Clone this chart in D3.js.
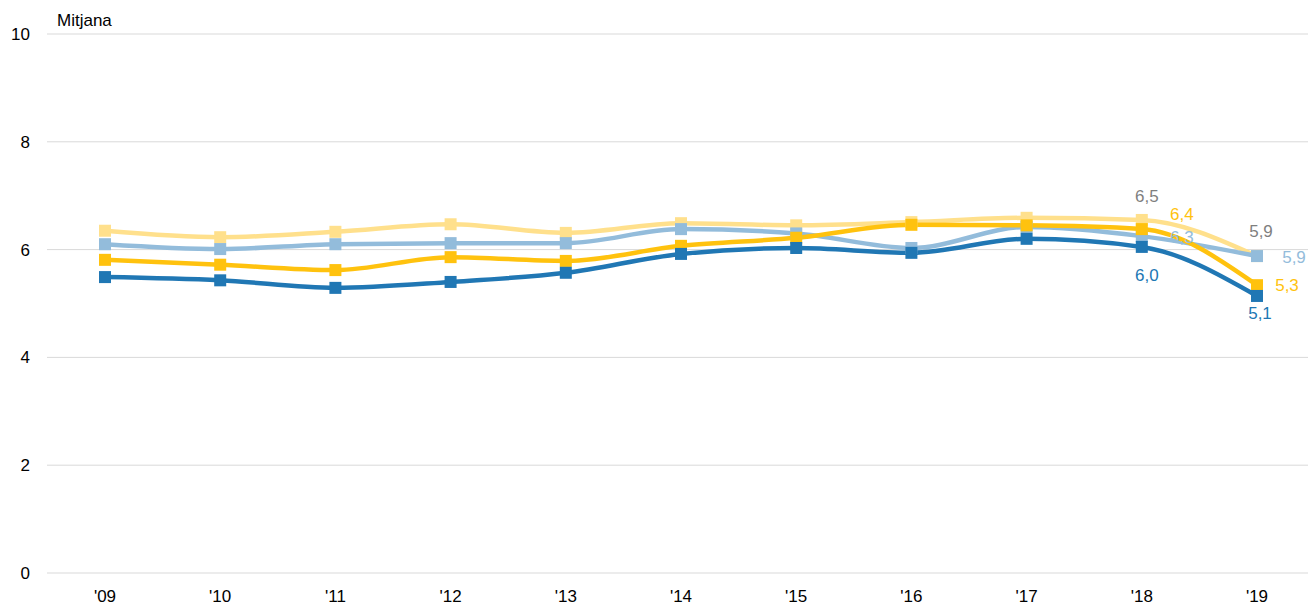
<!DOCTYPE html>
<html><head><meta charset="utf-8">
<script src="https://cdn.jsdelivr.net/npm/d3@7"></script>
<style>body{margin:0;background:#fff}svg{display:block;font-family:"Liberation Sans",Arial,sans-serif}</style>
</head><body><svg id="c" width="1308" height="606"></svg>
<script>
const years = ["'09","'10","'11","'12","'13","'14","'15","'16","'17","'18","'19"];
const yTicks = [0,2,4,6,8,10];
const seriesLightYellow = [6.35,6.23,6.33,6.47,6.31,6.49,6.45,6.51,6.59,6.55,5.88];
const seriesLightBlue  = [6.10,6.01,6.10,6.12,6.12,6.38,6.30,6.03,6.42,6.25,5.88];
const seriesGold       = [5.81,5.72,5.62,5.86,5.79,6.07,6.22,6.46,6.45,6.38,5.34];
const seriesDarkBlue   = [5.49,5.43,5.29,5.40,5.57,5.92,6.03,5.94,6.20,6.05,5.14];
const labels18 = ["6,5","6,3","6,4","6,0"];
const labels19 = ["5,9","5,9","5,3","5,1"];

const series = [
  {v: seriesLightYellow, c:"#ffe08c", lc:"#7f7f7f"},
  {v: seriesLightBlue, c:"#93bcdb", lc:"#93bcdb"},
  {v: seriesGold, c:"#ffc20e", lc:"#ffc20e"},
  {v: seriesDarkBlue, c:"#2077b4", lc:"#2077b4"}
];
const FS = 17;
const svg = d3.select("#c");
const x = d3.scalePoint().domain(years).range([105,1257]);
const y = d3.scaleLinear().domain([0,10]).range([573,34]);

const g = svg.append("g");
g.selectAll("line.grid").data(yTicks).join("line")
  .attr("x1",47).attr("x2",1308).attr("y1",d=>y(d)).attr("y2",d=>y(d))
  .attr("stroke","#d9d9d9").attr("stroke-width",1);
g.selectAll("text.yt").data(yTicks).join("text")
  .attr("x",30).attr("y",d=>y(d)).attr("dy","0.35em").attr("text-anchor","end")
  .attr("font-size",FS).attr("fill","#000").text(d=>d);
g.selectAll("text.xt").data(years).join("text")
  .attr("x",d=>x(d)).attr("y",596).attr("dy","0.35em").attr("text-anchor","middle")
  .attr("font-size",FS).attr("fill","#000").text(d=>d);
svg.append("text").attr("x",57).attr("y",20).attr("dy","0.35em").attr("font-size",FS).text("Mitjana");

const line = d3.line().x((d,i)=>x(years[i])).y(d=>y(d)).curve(d3.curveMonotoneX);
series.forEach(s=>{
  svg.append("path").attr("d",line(s.v)).attr("fill","none")
    .attr("stroke",s.c).attr("stroke-width",4.5);
});
series.forEach(s=>{
  svg.selectAll(null).data(s.v).join("rect")
    .attr("x",(d,i)=>x(years[i])-6).attr("y",d=>y(d)-6)
    .attr("width",12).attr("height",12).attr("fill",s.c);
});
// value labels
const off18 = [[5,-24],[40,1],[40,-15],[5,28]];
const off19 = [[4,-25],[37,1],[30,0],[3,17]];
series.forEach((s,k)=>{
  const i18 = 9, i19 = 10;
  svg.append("text").attr("x",x(years[i18])+off18[k][0]).attr("y",y(s.v[i18])+off18[k][1]).attr("dy","0.35em")
    .attr("text-anchor","middle").attr("font-size",FS).attr("fill",s.lc).text(labels18[k]);
  svg.append("text").attr("x",x(years[i19])+off19[k][0]).attr("y",y(s.v[i19])+off19[k][1]).attr("dy","0.35em")
    .attr("text-anchor","middle").attr("font-size",FS).attr("fill",s.lc).text(labels19[k]);
});
</script></body></html>
